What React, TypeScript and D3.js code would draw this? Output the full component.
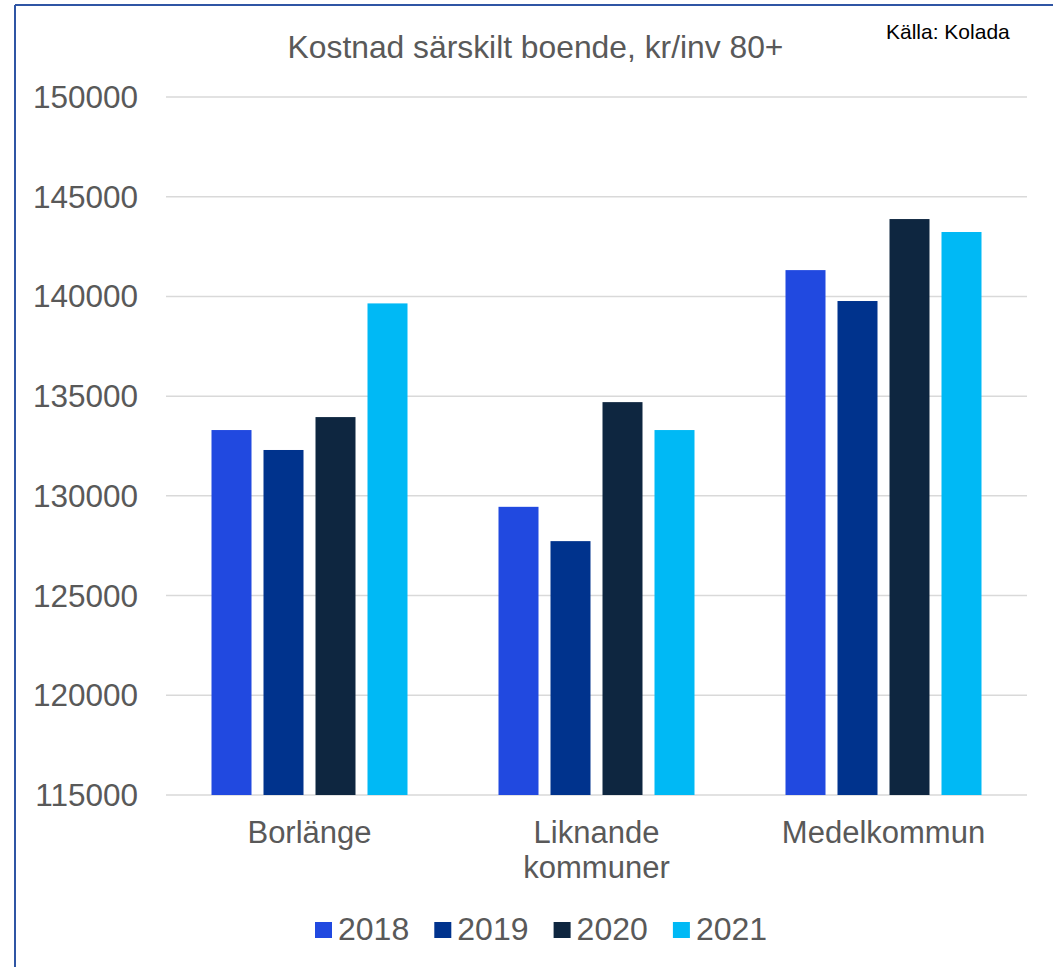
import React from "react";
import * as d3 from "d3";

const categories = ["Borlänge", "Liknande kommuner", "Medelkommun"];
const categoryLines = [["Borlänge"], ["Liknande", "kommuner"], ["Medelkommun"]];
const years = ["2018", "2019", "2020", "2021"];
const values2018 = [133300, 129450, 141320];
const values2019 = [132300, 127730, 139770];
const values2020 = [133950, 134700, 143880];
const values2021 = [139650, 133300, 143230];
const seriesValues = [values2018, values2019, values2020, values2021];
const colors = ["#2149E0", "#00338D", "#0E2640", "#00B9F5"];
const yTicks = [115000, 120000, 125000, 130000, 135000, 140000, 145000, 150000];

const W = 1053;
const H = 967;
const left = 166;
const right = 1027;
const top = 97;
const bottom = 795;
const font = "Liberation Sans, Arial, sans-serif";

export default function App() {
  const x = d3.scaleBand<string>().domain(categories).range([left, right]).paddingInner(0.317).paddingOuter(0.1585);
  const y = d3.scaleLinear().domain([115000, 150000]).range([bottom, top]);
  const barW = 40;
  const gap = 12;
  const groupW = years.length * barW + (years.length - 1) * gap;

  return (
    <svg width={W} height={H} style={{ position: "absolute", left: 0, top: 0, background: "#fff" }}>
      <rect x={0} y={0} width={W} height={H} fill="#fff" />
      <line x1={15} y1={5} x2={W + 5} y2={5} stroke="#2F55A4" strokeWidth={2} />
      <line x1={15} y1={5} x2={15} y2={H + 5} stroke="#2F55A4" strokeWidth={2} />
      <text x={535.5} y={58} textAnchor="middle" fontFamily={font} fontSize={31.8} fill="#595959">
        Kostnad särskilt boende, kr/inv 80+
      </text>
      <text x={886} y={39} fontFamily={font} fontSize={21} fill="#000">
        Källa: Kolada
      </text>
      {yTicks.map((t) => (
        <g key={t}>
          <line x1={left} x2={right} y1={y(t)} y2={y(t)} stroke="#D9D9D9" strokeWidth={1.5} />
          <text x={138} y={y(t) + 11} textAnchor="end" fontFamily={font} fontSize={31.5} fill="#595959">
            {t}
          </text>
        </g>
      ))}
      {categories.map((c, ci) => {
        const cx = (x(c) as number) + x.bandwidth() / 2;
        const x0 = cx - groupW / 2;
        return (
          <g key={c}>
            {seriesValues.map((vals, si) => (
              <rect
                key={si}
                x={x0 + si * (barW + gap)}
                y={y(vals[ci])}
                width={barW}
                height={bottom - y(vals[ci])}
                fill={colors[si]}
              />
            ))}
            {categoryLines[ci].map((ln, li) => (
              <text key={li} x={cx} y={843 + li * 35} textAnchor="middle" fontFamily={font} fontSize={31} fill="#595959">
                {ln}
              </text>
            ))}
          </g>
        );
      })}
      {years.map((yr, i) => {
        const lx = 315 + i * 119.3;
        return (
          <g key={yr}>
            <rect x={lx} y={922} width={17} height={16} fill={colors[i]} />
            <text x={lx + 23} y={940} fontFamily={font} fontSize={32} fill="#595959">
              {yr}
            </text>
          </g>
        );
      })}
    </svg>
  );
}
